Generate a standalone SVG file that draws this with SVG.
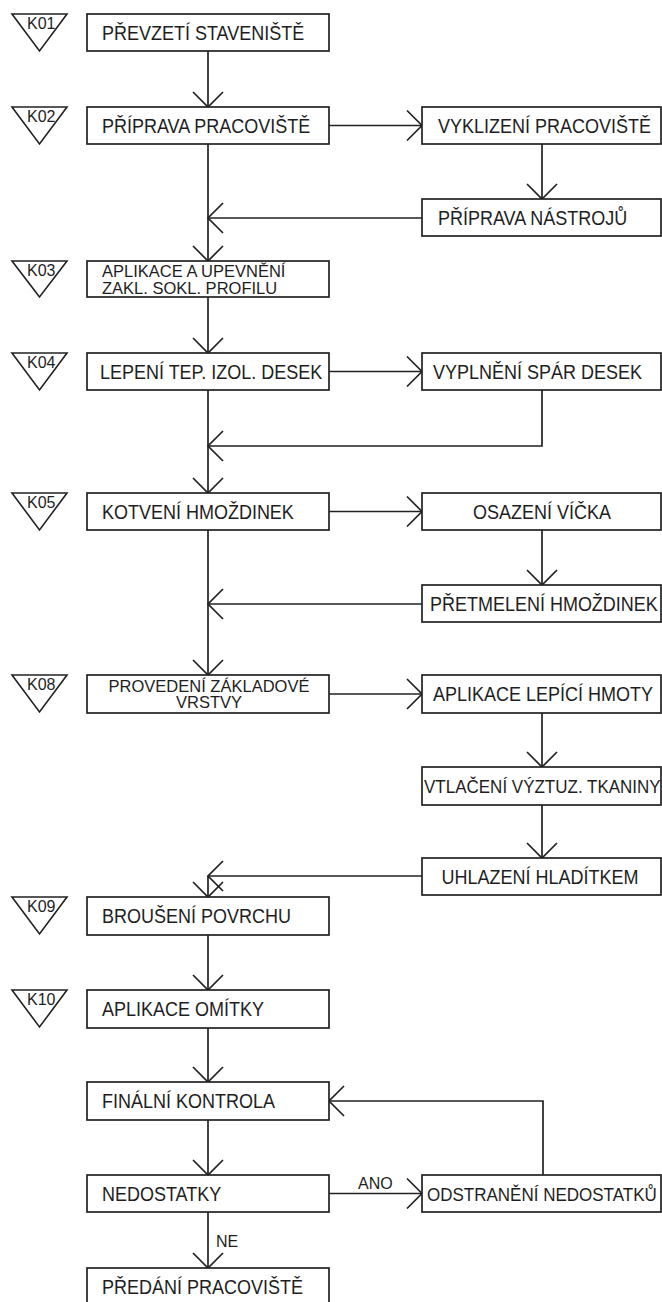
<svg xmlns="http://www.w3.org/2000/svg" width="662" height="1302" viewBox="0 0 662 1302">
<defs>
<style>
.box{fill:#fff;stroke:#222;stroke-width:1.7}
.tri{fill:#fff;stroke:#222;stroke-width:1.6}
.t,.k,.t1{transform-box:fill-box;transform-origin:50% 100%;transform:scaleY(1.08)}
.t{font-family:"Liberation Sans",Arial,sans-serif;font-size:18px;fill:#1e1e1e}
.t1{font-family:"Liberation Sans",Arial,sans-serif;font-size:17px;fill:#1e1e1e}
.t2{font-family:"Liberation Sans",Arial,sans-serif;font-size:16.5px;fill:#1e1e1e}
.k{font-family:"Liberation Sans",Arial,sans-serif;font-size:16px;fill:#1e1e1e}
.c{fill:none;stroke:#222;stroke-width:1.7}
</style>
<marker id="arr" markerUnits="userSpaceOnUse" orient="auto" markerWidth="20" markerHeight="34" viewBox="-17 -17 20 34" refX="0" refY="0" overflow="visible">
<path d="M-15,-15 L0,0 L-15,15" fill="none" stroke="#222" stroke-width="1.7"/>
</marker>
</defs>
<rect width="662" height="1302" fill="#fff"/>

<g id="connectors">
<path class="c" d="M208,51 V107" marker-end="url(#arr)"/>
<path class="c" d="M329,125.5 H422" marker-end="url(#arr)"/>
<path class="c" d="M542,144 V199" marker-end="url(#arr)"/>
<path class="c" d="M422,218 H208" marker-end="url(#arr)"/>
<path class="c" d="M208,144 V261" marker-end="url(#arr)"/>
<path class="c" d="M208,297 V353" marker-end="url(#arr)"/>
<path class="c" d="M329,371.5 H422" marker-end="url(#arr)"/>
<path class="c" d="M542,390 V446 H208" marker-end="url(#arr)"/>
<path class="c" d="M208,390 V493" marker-end="url(#arr)"/>
<path class="c" d="M329,511.5 H422" marker-end="url(#arr)"/>
<path class="c" d="M542,530 V585" marker-end="url(#arr)"/>
<path class="c" d="M422,604 H208" marker-end="url(#arr)"/>
<path class="c" d="M208,530 V675" marker-end="url(#arr)"/>
<path class="c" d="M329,694 H422" marker-end="url(#arr)"/>
<path class="c" d="M542,713 V767" marker-end="url(#arr)"/>
<path class="c" d="M542,805 V858" marker-end="url(#arr)"/>
<path class="c" d="M422,876 H208" marker-end="url(#arr)"/>
<path class="c" d="M208,876 V897" marker-end="url(#arr)"/>
<path class="c" d="M208,935 V990" marker-end="url(#arr)"/>
<path class="c" d="M208,1028 V1082" marker-end="url(#arr)"/>
<path class="c" d="M208,1120 V1175" marker-end="url(#arr)"/>
<path class="c" d="M329,1193.5 H422" marker-end="url(#arr)"/>
<path class="c" d="M543,1175 V1101 H329" marker-end="url(#arr)"/>
<path class="c" d="M208,1212 V1268" marker-end="url(#arr)"/>
<text class="k" x="358" y="1189" font-size="17">ANO</text>
<text class="k" x="216" y="1247" font-size="17">NE</text>
</g>

<g id="k01"><polygon class="tri" points="12,14 67,14 39.5,51"/><text class="k" x="27" y="29">K01</text></g>
<g id="k02"><polygon class="tri" points="12,107 67,107 39.5,144"/><text class="k" x="27" y="122">K02</text></g>
<g id="k03"><polygon class="tri" points="12,261 67,261 39.5,297"/><text class="k" x="27" y="276">K03</text></g>
<g id="k04"><polygon class="tri" points="12,353 67,353 39.5,390"/><text class="k" x="27" y="368">K04</text></g>
<g id="k05"><polygon class="tri" points="12,493 67,493 39.5,530"/><text class="k" x="27" y="508">K05</text></g>
<g id="k08"><polygon class="tri" points="12,675 67,675 39.5,712"/><text class="k" x="27" y="690">K08</text></g>
<g id="k09"><polygon class="tri" points="12,897 67,897 39.5,934"/><text class="k" x="27" y="912">K09</text></g>
<g id="k10"><polygon class="tri" points="12,990 67,990 39.5,1027"/><text class="k" x="27" y="1005">K10</text></g>

<g id="n1"><rect class="box" x="87" y="14" width="242" height="37"/><text class="t" x="102" y="40">PŘEVZETÍ STAVENIŠTĚ</text></g>
<g id="n2"><rect class="box" x="87" y="107" width="242" height="37"/><text class="t" x="102" y="133">PŘÍPRAVA PRACOVIŠTĚ</text></g>
<g id="n3"><rect class="box" x="87" y="261" width="242" height="36"/><text class="t2" x="102" y="277">APLIKACE A UPEVNĚNÍ</text><text class="t2" x="102" y="293.5">ZAKL. SOKL. PROFILU</text></g>
<g id="n4"><rect class="box" x="87" y="353" width="242" height="37"/><text class="t" x="100" y="379">LEPENÍ TEP. IZOL. DESEK</text></g>
<g id="n5"><rect class="box" x="87" y="493" width="242" height="37"/><text class="t" x="102" y="519">KOTVENÍ HMOŽDINEK</text></g>
<g id="n6"><rect class="box" x="87" y="675" width="242" height="38"/><text class="t2" x="209" y="691.5" text-anchor="middle">PROVEDENÍ ZÁKLADOVÉ</text><text class="t2" x="209" y="708" text-anchor="middle">VRSTVY</text></g>
<g id="n7"><rect class="box" x="87" y="897" width="242" height="38"/><text class="t" x="102" y="923">BROUŠENÍ POVRCHU</text></g>
<g id="n8"><rect class="box" x="87" y="990" width="242" height="38"/><text class="t" x="102" y="1016">APLIKACE OMÍTKY</text></g>
<g id="n9"><rect class="box" x="87" y="1082" width="242" height="38"/><text class="t" x="102" y="1108">FINÁLNÍ KONTROLA</text></g>
<g id="n10"><rect class="box" x="87" y="1175" width="242" height="37"/><text class="t" x="102" y="1201">NEDOSTATKY</text></g>
<g id="n11"><rect class="box" x="87" y="1268" width="242" height="38"/><text class="t" x="102" y="1294">PŘEDÁNÍ PRACOVIŠTĚ</text></g>

<g id="r1"><rect class="box" x="422" y="107" width="239" height="37"/><text class="t" x="438" y="133">VYKLIZENÍ PRACOVIŠTĚ</text></g>
<g id="r2"><rect class="box" x="422" y="199" width="239" height="37"/><text class="t" x="438" y="225">PŘÍPRAVA NÁSTROJŮ</text></g>
<g id="r3"><rect class="box" x="422" y="353" width="239" height="37"/><text class="t" x="433" y="379">VYPLNĚNÍ SPÁR DESEK</text></g>
<g id="r4"><rect class="box" x="422" y="493" width="239" height="37"/><text class="t" x="542" y="519" text-anchor="middle">OSAZENÍ VÍČKA</text></g>
<g id="r5"><rect class="box" x="422" y="585" width="239" height="37"/><text class="t" x="430" y="611">PŘETMELENÍ HMOŽDINEK</text></g>
<g id="r6"><rect class="box" x="422" y="675" width="239" height="38"/><text class="t" x="433" y="701">APLIKACE LEPÍCÍ HMOTY</text></g>
<g id="r7"><rect class="box" x="422" y="767" width="239" height="38"/><text class="t1" x="424" y="793">VTLAČENÍ VÝZTUZ. TKANINY</text></g>
<g id="r8"><rect class="box" x="422" y="858" width="239" height="37"/><text class="t" x="540" y="884" text-anchor="middle">UHLAZENÍ HLADÍTKEM</text></g>
<g id="r9"><rect class="box" x="422" y="1175" width="239" height="37"/><text class="t1" x="427" y="1201">ODSTRANĚNÍ NEDOSTATKŮ</text></g>
</svg>
